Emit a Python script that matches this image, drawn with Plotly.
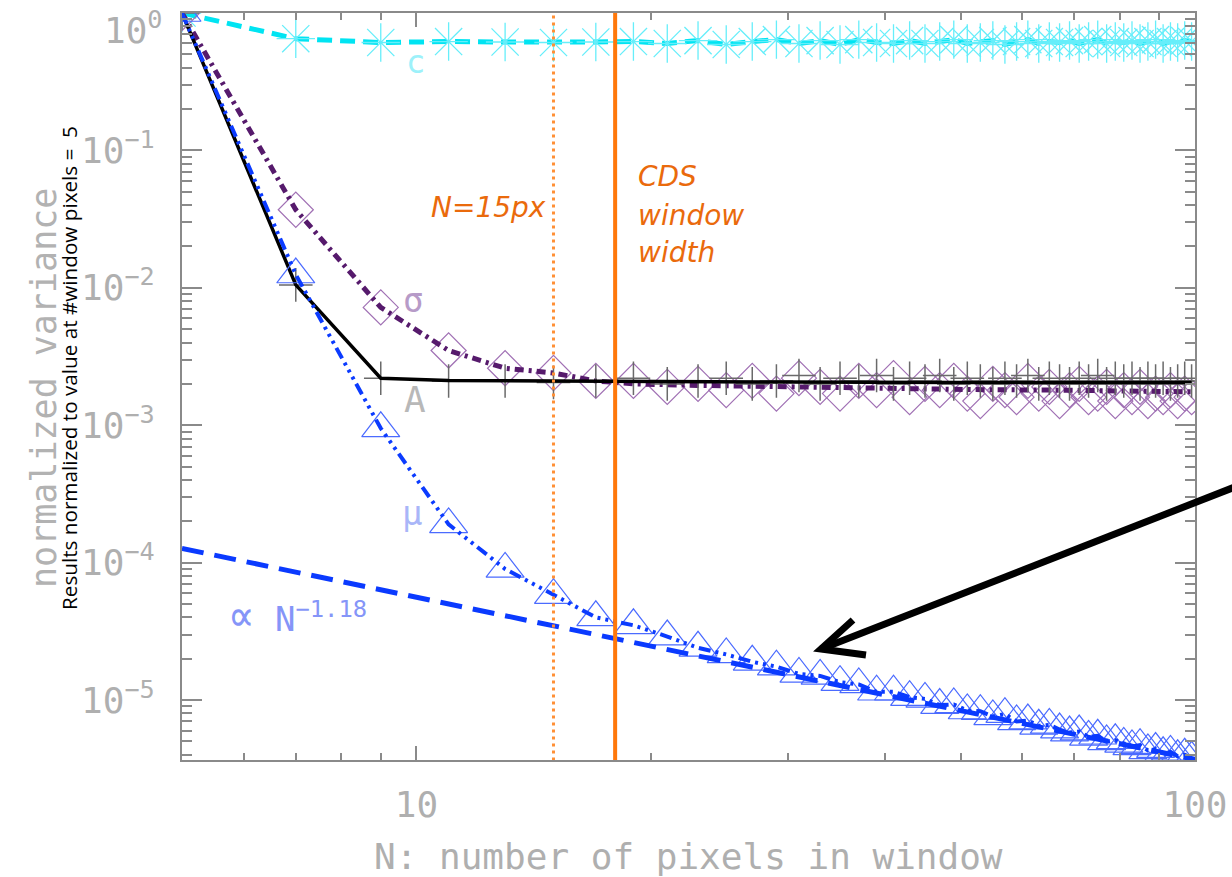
import plotly.graph_objects as go

# ---------------- data ----------------
N = list(range(5, 100, 2))  # odd window sizes 5..99

C_vals = [1.0, 0.65, 0.61, 0.62, 0.615, 0.61, 0.615, 0.62, 0.60, 0.63, 0.59, 0.62, 0.64, 0.60,
          0.63, 0.59, 0.64, 0.61, 0.60, 0.63, 0.60, 0.62, 0.64, 0.60, 0.61, 0.63, 0.59, 0.62,
          0.64, 0.60, 0.62, 0.61, 0.63, 0.60, 0.62, 0.64, 0.60, 0.62, 0.61, 0.63, 0.60, 0.62,
          0.64, 0.60, 0.62, 0.61, 0.63, 0.62]

sigma_pts = [1.0, 0.037, 0.0072, 0.0035, 0.0026, 0.0024, 0.0021, 0.0021, 0.0019, 0.0020, 0.0018,
             0.0021, 0.0017, 0.0022, 0.0019, 0.0017, 0.0021, 0.0018, 0.0022, 0.0016, 0.0020,
             0.0018, 0.0021, 0.0017, 0.0015, 0.0020, 0.0018, 0.0016, 0.0021, 0.0017, 0.0019,
             0.0015, 0.0018, 0.0020, 0.0016, 0.0017, 0.0019, 0.0015, 0.0018, 0.0016, 0.0019,
             0.0015, 0.0017, 0.0016, 0.0018, 0.0015, 0.0017, 0.0016]
sigma_line_N = [5, 7, 9, 11, 13, 15, 17, 19, 23, 29, 39, 51, 67, 85, 99]
sigma_line = [1.0, 0.037, 0.0072, 0.0035, 0.0026, 0.0024, 0.0021, 0.0020, 0.00195, 0.0019,
              0.00185, 0.00182, 0.0018, 0.00178, 0.00175]

A_pts = [1.0, 0.0105, 0.0022, 0.0021, 0.0021, 0.00205, 0.0021, 0.0022, 0.0020, 0.0021, 0.0022,
         0.0020, 0.0021, 0.0023, 0.0020, 0.0022, 0.0021, 0.0023, 0.0020, 0.0022, 0.0021, 0.0023,
         0.0020, 0.0022, 0.0021, 0.0020, 0.0022, 0.0021, 0.0023, 0.0020, 0.0022, 0.0021, 0.0020,
         0.0022, 0.0021, 0.0023, 0.0020, 0.0022, 0.0021, 0.0022, 0.0020, 0.0022, 0.0021, 0.0022,
         0.0020, 0.0021, 0.0022, 0.0021]
A_line_N = [5, 7, 9, 11, 15, 20, 30, 50, 99]
A_line = [1.0, 0.0105, 0.0022, 0.00212, 0.0021, 0.00208, 0.00206, 0.00205, 0.00205]

mu_vals = [1.0, 0.0125, 9.5e-4, 1.9e-4, 9.0e-5, 5.8e-5, 4.0e-5, 3.5e-5, 2.9e-5, 2.4e-5, 2.15e-5,
           1.9e-5, 1.75e-5, 1.55e-5, 1.5e-5, 1.35e-5, 1.3e-5, 1.15e-5, 1.15e-5, 1.05e-5, 1.02e-5,
           9.2e-6, 9.3e-6, 8.4e-6, 8.3e-6, 7.6e-6, 7.9e-6, 7.0e-6, 7.1e-6, 6.5e-6, 6.6e-6, 6.1e-6,
           5.8e-6, 5.9e-6, 5.4e-6, 5.5e-6, 5.0e-6, 5.1e-6, 4.8e-6, 4.6e-6, 4.7e-6, 4.3e-6, 4.4e-6,
           4.1e-6, 4.2e-6, 3.9e-6, 4.0e-6, 3.8e-6]

powerlaw_N = [5, 100]
powerlaw_vals = [1.27e-4, 3.7e-6]

N_15PX = 15
CDS_WIDTH = 18

x_tickvals = [10, 100]
x_ticktext = ["10", "100"]
x_minor = [6, 7, 8, 9, 20, 30, 40, 50, 60, 70, 80, 90]
y_tickvals = [1, 1e-1, 1e-2, 1e-3, 1e-4, 1e-5]
y_ticktext = [" ", "10<sup>\u22121</sup>", "10<sup>\u22122</sup>", "10<sup>\u22123</sup>",
              "10<sup>\u22124</sup>", "10<sup>\u22125</sup>"]
y_minor = [m * 10.0 ** e for e in range(-6, 0) for m in range(2, 10)]

# ---------------- layout geometry ----------------
W, H = 1232, 877
ML, MR, MT, MB = 182, 37, 13, 117
PW, PH = W - ML - MR, H - MT - MB


def px(x, y):
    return (x - ML) / PW, (H - MB - y) / PH


fig = go.Figure()


def open_marker(symbol, size, color, width):
    return dict(symbol=symbol, size=size, color=color, line=dict(color=color, width=width))


# C
fig.add_trace(go.Scatter(x=N, y=C_vals, mode="lines",
                         line=dict(color="#00E4F2", width=5, dash="15px,8px"), hoverinfo="skip"))
fig.add_trace(go.Scatter(x=N, y=C_vals, mode="markers",
                         marker=open_marker("asterisk-open", 32, "#66EEFA", 1.3), hoverinfo="skip"))
# sigma
fig.add_trace(go.Scatter(x=N, y=sigma_pts, mode="markers",
                         marker=open_marker("diamond-open", 27, "#A070B4", 1.2), hoverinfo="skip"))
fig.add_trace(go.Scatter(x=sigma_line_N, y=sigma_line, mode="lines",
                         line=dict(color="#561A6C", width=5, dash="9px,5px,3px,5px"),
                         hoverinfo="skip"))
# A
fig.add_trace(go.Scatter(x=N, y=A_pts, mode="markers",
                         marker=open_marker("cross-thin-open", 24, "#6A6A6A", 1.5), hoverinfo="skip"))
fig.add_trace(go.Scatter(x=A_line_N, y=A_line, mode="lines",
                         line=dict(color="#000000", width=3.5), hoverinfo="skip"))
# mu
fig.add_trace(go.Scatter(x=N, y=mu_vals, mode="markers",
                         marker=open_marker("triangle-up-open", 33, "#4B6BFF", 1.2), hoverinfo="skip"))
fig.add_trace(go.Scatter(x=N, y=mu_vals, mode="lines",
                         line=dict(color="#0B3BFF", width=4,
                                   dash="12px,5px,3px,5px,3px,5px,3px,5px"), hoverinfo="skip"))
# power law
fig.add_trace(go.Scatter(x=powerlaw_N, y=powerlaw_vals, mode="lines",
                         line=dict(color="#0A3AFF", width=5, dash="22px,11px"), hoverinfo="skip"))
# orange verticals
fig.add_trace(go.Scatter(x=[N_15PX, N_15PX], y=[1e-6, 2], mode="lines",
                         line=dict(color="#FF9036", width=3, dash="3px,4px"), hoverinfo="skip"))
fig.add_trace(go.Scatter(x=[CDS_WIDTH, CDS_WIDTH], y=[1e-6, 2], mode="lines",
                         line=dict(color="#FF780A", width=4), hoverinfo="skip"))

axis_col = "#8A8A8A"
txt_gray = "#AFAFAF"
tick_font = dict(family="DejaVu Sans Mono", size=36, color=txt_gray)

fig.update_xaxes(type="log", range=[0.69897, 2.0], showgrid=False, zeroline=False,
                 automargin=False,
                 showline=True, linecolor=axis_col, linewidth=2, mirror="allticks",
                 ticks="inside", ticklen=14, tickwidth=1.5, tickcolor=axis_col,
                 tickvals=x_tickvals, ticktext=x_ticktext, tickfont=tick_font,
                 ticklabelstandoff=12,
                 minor=dict(ticks="inside", ticklen=7, tickwidth=1.5, tickcolor=axis_col,
                            tickvals=x_minor, showgrid=False))
fig.update_yaxes(type="log", range=[-5.436, 0.0], showgrid=False, zeroline=False,
                 automargin=False,
                 showline=True, linecolor=axis_col, linewidth=2, mirror="allticks",
                 ticks="inside", ticklen=20, tickwidth=1.5, tickcolor=axis_col,
                 tickvals=y_tickvals, ticktext=y_ticktext, tickfont=tick_font,
                 ticklabelstandoff=18,
                 minor=dict(ticks="inside", ticklen=10, tickwidth=1.5, tickcolor=axis_col,
                            tickvals=y_minor, showgrid=False))

ann = []


def add_text(text, x, y, xanchor="center", yanchor="middle", **font):
    fx, fy = px(x, y)
    ann.append(dict(text=text, x=fx, y=fy, xref="paper", yref="paper", showarrow=False,
                    xanchor=xanchor, yanchor=yanchor, font=font))


mono = "DejaVu Sans Mono"
add_text("10<sup>0</sup>", 165, 28, xanchor="right", family=mono, size=36, color=txt_gray)
add_text("N: number of pixels in window", 688, 834, yanchor="top",
         family=mono, size=36, color=txt_gray)
fx, fy = px(22, 388)
ann.append(dict(text="normalized variance", x=fx, y=fy, xref="paper", yref="paper",
                showarrow=False, textangle=-90, font=dict(family=mono, size=35, color="#B2B2B2")))
fx, fy = px(53, 368)
ann.append(dict(text="Results normalized to value at #window pixels =  5", x=fx, y=fy,
                xref="paper", yref="paper", showarrow=False, textangle=-90,
                font=dict(family="Open Sans", size=20.7, color="#000000")))

orange_font = dict(family="DejaVu Sans", size=28, color="#EA6A0C", style="italic")
add_text("N=15px", 548, 207, xanchor="right", **orange_font)
add_text("CDS", 636, 177, xanchor="left", **orange_font)
add_text("window", 636, 215, xanchor="left", **orange_font)
add_text("width", 636, 252, xanchor="left", **orange_font)

add_text("c", 415, 62, family=mono, size=32, color="#9DF1FA")
add_text("\u03c3", 413, 300, family=mono, size=34, color="#B79BC8")
add_text("A", 415, 399, family=mono, size=36, color="#B8B8B8")
add_text("\u03bc", 412, 513, family=mono, size=34, color="#A9B6F8")
add_text("<span style='font-size:44px'>\u221d</span> N<sup>\u22121.18</sup>", 226, 615,
         xanchor="left", family=mono, size=34, color="#8595F8")

# arrow (annotation graphic)
t0 = px(1240, 485)
t1 = px(821, 649)
a1 = px(853, 620)
a2 = px(866, 655)
shapes = [
    dict(type="line", xref="paper", yref="paper", x0=t0[0], y0=t0[1], x1=t1[0], y1=t1[1],
         line=dict(color="black", width=7)),
    dict(type="path", xref="paper", yref="paper",
         path=f"M{a1[0]},{a1[1]} L{t1[0]},{t1[1]} L{a2[0]},{a2[1]}",
         line=dict(color="black", width=7)),
]

fig.update_layout(width=W, height=H, margin=dict(l=ML, r=MR, t=MT, b=MB, autoexpand=False),
                  plot_bgcolor="white", paper_bgcolor="white", showlegend=False,
                  annotations=ann, shapes=shapes)

fig.write_html("out.html", config={"displayModeBar": False},
               post_script="document.body.style.margin='0px';document.body.style.overflow='hidden';")
